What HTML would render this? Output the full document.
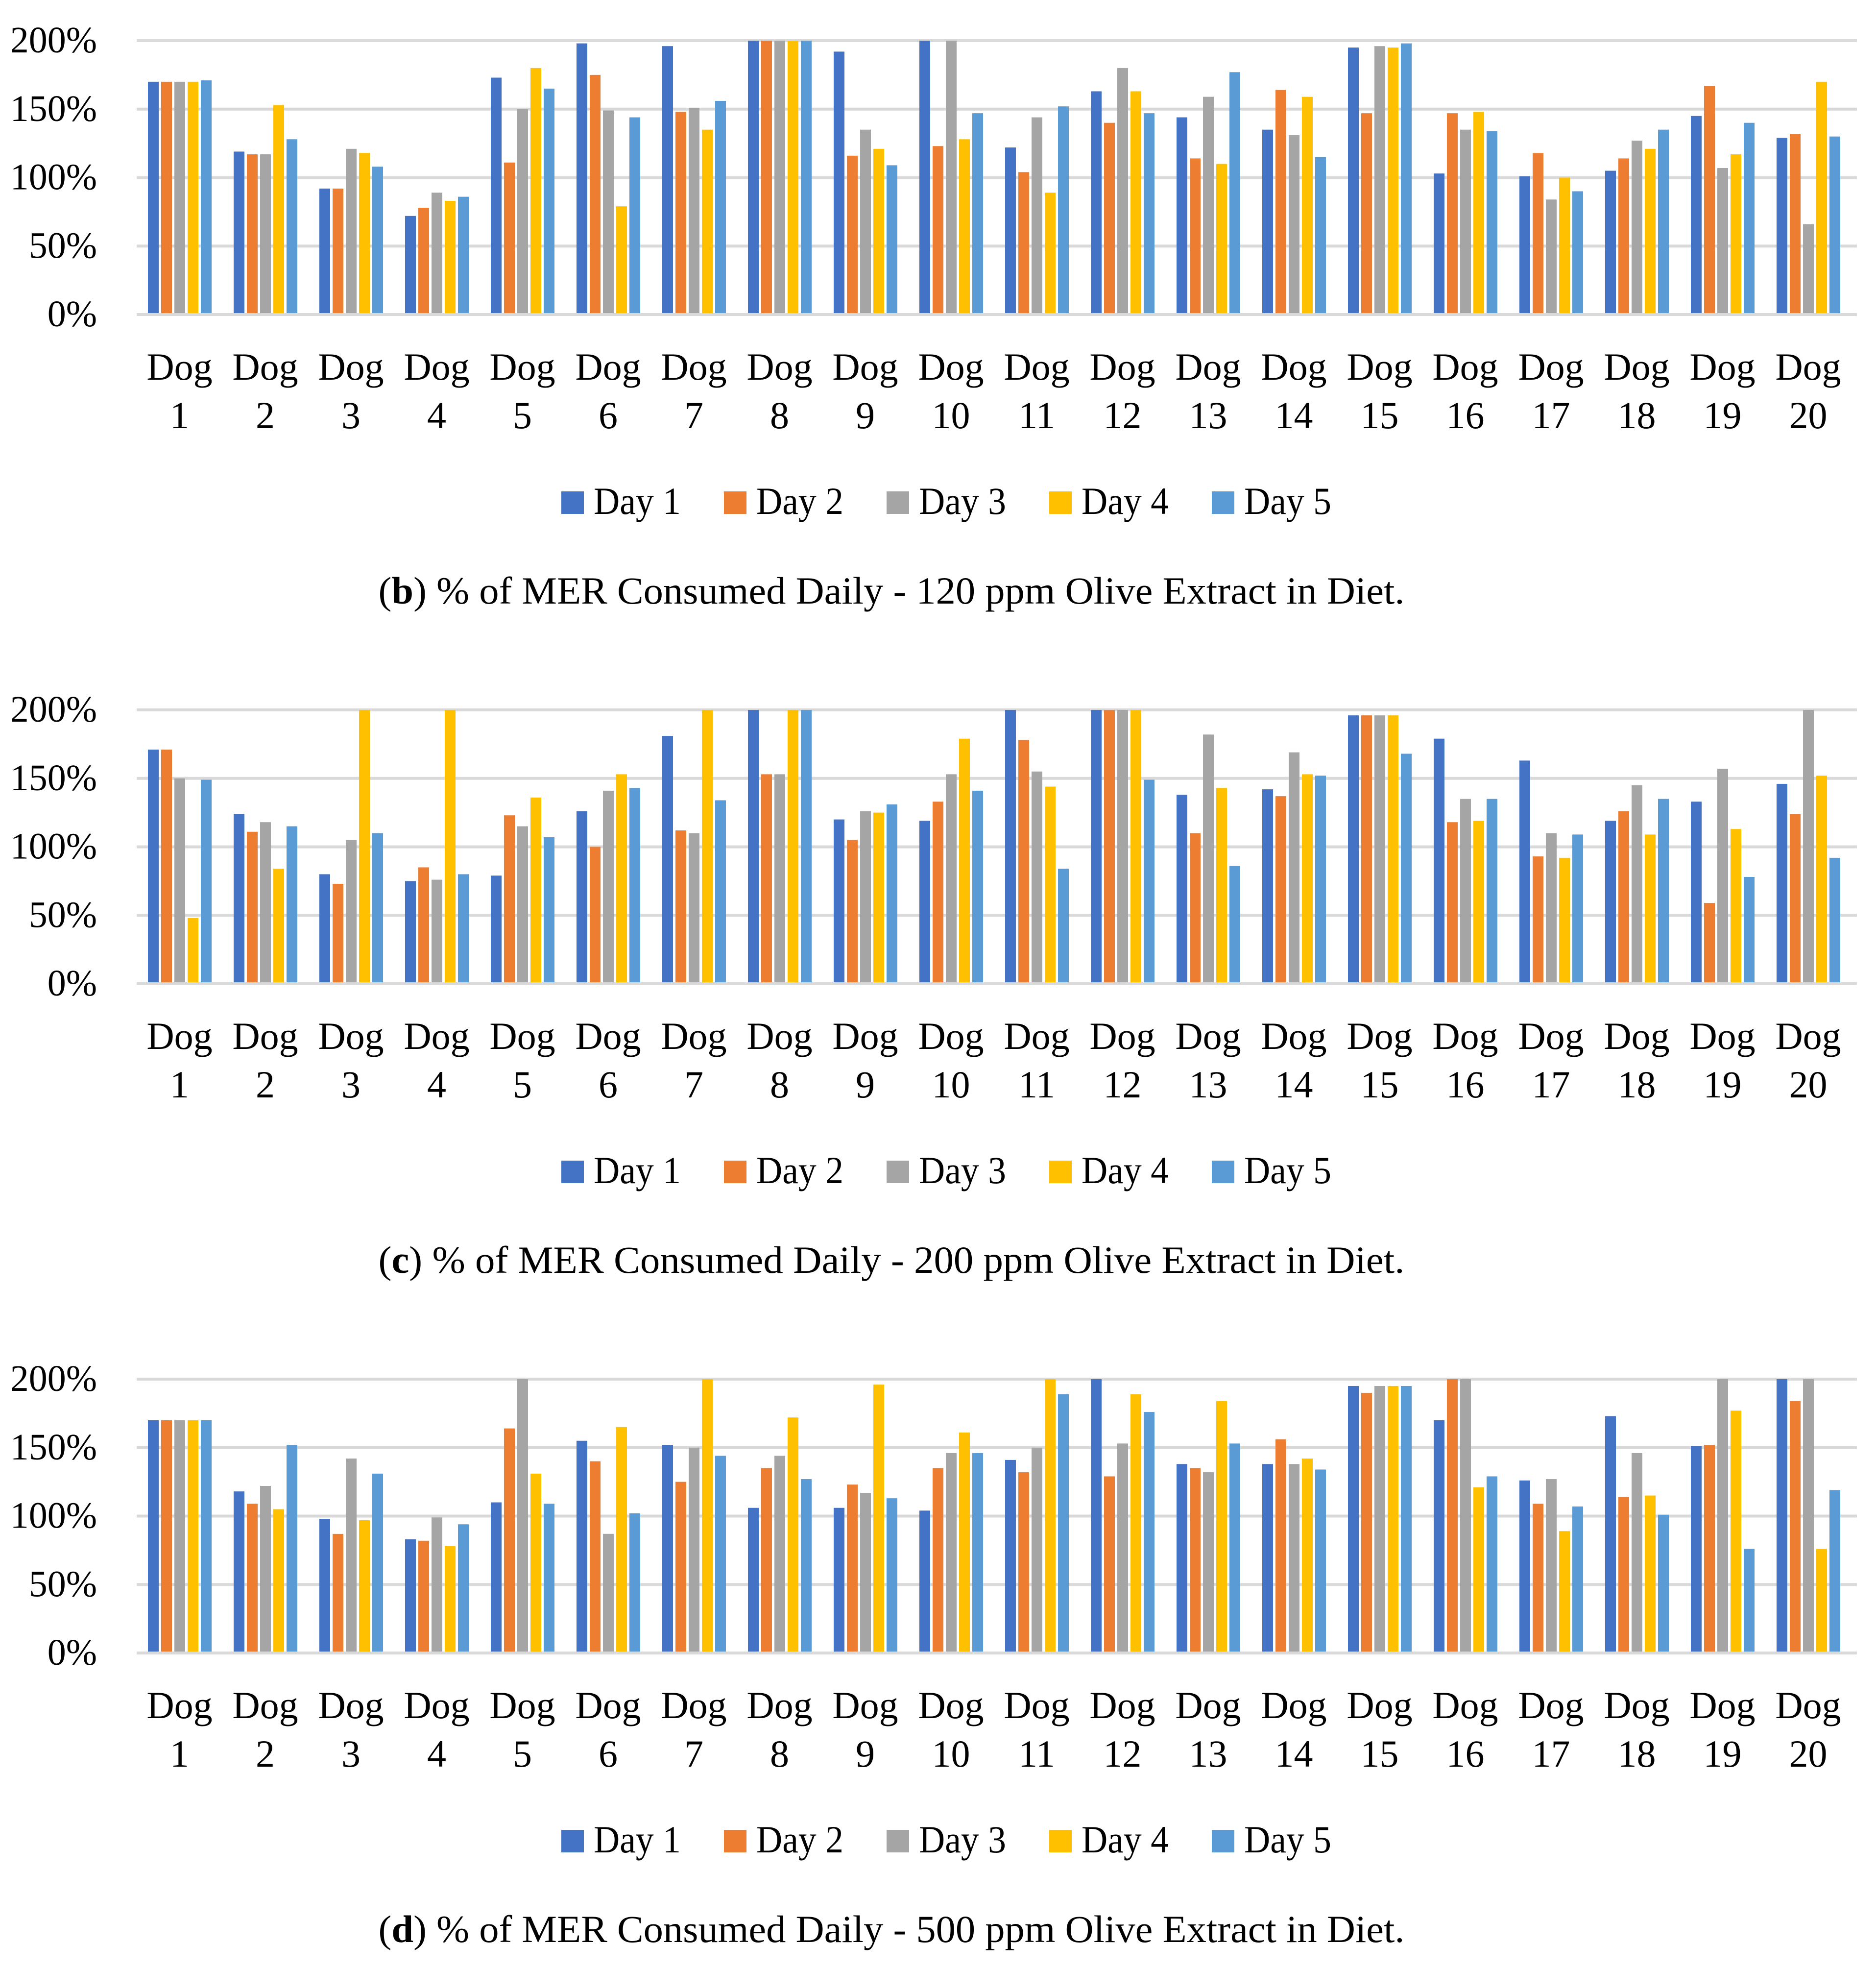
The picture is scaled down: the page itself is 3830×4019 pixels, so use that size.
<!DOCTYPE html>
<html><head><meta charset="utf-8"><style>
html,body{margin:0;padding:0;background:#fff;}
svg{display:block;font-family:"Liberation Serif",serif;}
</style></head><body>
<svg id="fig" width="3830" height="4019" viewBox="0 0 3830 4019" xmlns="http://www.w3.org/2000/svg"></svg>
<script>
const categories = ["1","2","3","4","5","6","7","8","9","10","11","12","13","14","15","16","17","18","19","20"];
const seriesNames = ["Day 1","Day 2","Day 3","Day 4","Day 5"];
const yTicks = [0,50,100,150,200];
const tickLabels = ["0%","50%","100%","150%","200%"];
const captionsLetter = ["b","c","d"];
const captionsText = [" % of MER Consumed Daily - 120 ppm Olive Extract in Diet."," % of MER Consumed Daily - 200 ppm Olive Extract in Diet."," % of MER Consumed Daily - 500 ppm Olive Extract in Diet."];
// chart b values per day (index = dog)
const b_day1 = [170,119,92,72,173,198,196,200,192,200,122,163,144,135,195,103,101,105,145,129];
const b_day2 = [170,117,92,78,111,175,148,200,116,123,104,140,114,164,147,147,118,114,167,132];
const b_day3 = [170,117,121,89,150,149,151,200,135,200,144,180,159,131,196,135,84,127,107,66];
const b_day4 = [170,153,118,83,180,79,135,200,121,128,89,163,110,159,195,148,100,121,117,170];
const b_day5 = [171,128,108,86,165,144,156,200,109,147,152,147,177,115,198,134,90,135,140,130];
// chart c
const c_day1 = [171,124,80,75,79,126,181,200,120,119,200,200,138,142,196,179,163,119,133,146];
const c_day2 = [171,111,73,85,123,100,112,153,105,133,178,200,110,137,196,118,93,126,59,124];
const c_day3 = [150,118,105,76,115,141,110,153,126,153,155,200,182,169,196,135,110,145,157,200];
const c_day4 = [48,84,200,200,136,153,200,200,125,179,144,200,143,153,196,119,92,109,113,152];
const c_day5 = [149,115,110,80,107,143,134,200,131,141,84,149,86,152,168,135,109,135,78,92];
// chart d
const d_day1 = [170,118,98,83,110,155,152,106,106,104,141,200,138,138,195,170,126,173,151,200];
const d_day2 = [170,109,87,82,164,140,125,135,123,135,132,129,135,156,190,200,109,114,152,184];
const d_day3 = [170,122,142,99,200,87,150,144,117,146,150,153,132,138,195,200,127,146,200,200];
const d_day4 = [170,105,97,78,131,165,200,172,196,161,200,189,184,142,195,121,89,115,177,76];
const d_day5 = [170,152,131,94,109,102,144,127,113,146,189,176,153,134,195,129,107,101,76,119];

const charts = [[b_day1,b_day2,b_day3,b_day4,b_day5],[c_day1,c_day2,c_day3,c_day4,c_day5],[d_day1,d_day2,d_day3,d_day4,d_day5]];
const colors = ["#4472c4","#ed7d31","#a5a5a5","#ffc000","#5b9bd5"];
const NS = "http://www.w3.org/2000/svg";
const svg = document.getElementById("fig");
function mk(tag, attrs, parent){const e=document.createElementNS(NS,tag);for(const k in attrs)e.setAttribute(k,attrs[k]);parent.appendChild(e);return e;}

const plotL = 279, catW = 175, y0 = 642, y200 = 83, chartStep = 1366;
charts.forEach((series, ci) => {
  const off = ci * chartStep;
  const g = mk("g", {}, svg);
  
  
  const yS = v => off + y0 - (v/200)*(y0 - y200);
  const xC = i => plotL + catW*i;
  yTicks.forEach((t, ti) => {
    const ln = mk("rect", {x: plotL, y: yS(t)-3, width: catW*categories.length+12, height: 6, fill: "#d9d9d9"}, g);
    
    
    const tx = mk("text", {x: 198, y: yS(t)+24, "text-anchor": "end", "font-size": 76, fill: "#000"}, g);
    tx.textContent = tickLabels[ti];
    
    
  });
  series.forEach((vals, si) => {
    vals.forEach((v, i) => {
      const top = yS(v);
      const r = mk("rect", {x: xC(i)+23 + si*27, y: top, width: 22, height: yS(0)-3-top, fill: colors[si]}, g);
      
      
    });
  });
  categories.forEach((c, i) => {
    const cx = xC(i) + catW/2;
    const t = mk("text", {x: cx, y: off + 775, "text-anchor": "middle", "font-size": 78, fill: "#000"}, g);
    mk("tspan", {x: cx, y: off + 775}, t).textContent = "Dog";
    mk("tspan", {x: cx, y: off + 874}, t).textContent = c;
    
    
  });
  seriesNames.forEach((n, si) => {
    const lx = 1146 + si*332, by = off + 1049;
    const sq = mk("rect", {x: lx, y: by-46, width: 46, height: 46, fill: colors[si]}, g);
    
    
    const lt = mk("text", {x: lx+66, y: by, "font-size": 78, fill: "#000", textLength: 178, lengthAdjust: "spacingAndGlyphs"}, g);
    lt.textContent = n;
    
    
  });
  const cap = mk("text", {x: 1820, y: off + 1232, "text-anchor": "middle", "font-size": 78, fill: "#000", textLength: 2095, lengthAdjust: "spacingAndGlyphs"}, g);
  cap.appendChild(document.createTextNode("("));
  mk("tspan", {"font-weight": "bold"}, cap).textContent = captionsLetter[ci];
  cap.appendChild(document.createTextNode(")" + captionsText[ci]));
  
  
});
</script>
</body></html>
